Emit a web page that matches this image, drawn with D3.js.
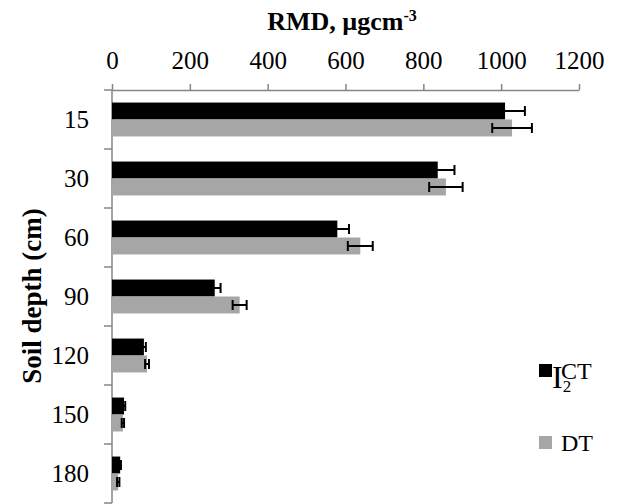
<!DOCTYPE html>
<html>
<head>
<meta charset="utf-8">
<script src="https://cdn.jsdelivr.net/npm/d3@7"></script>
<style>
  body { margin: 0; background: #fff; }
  text { font-family: "Liberation Serif", "Times New Roman", serif; fill: #000; }
</style>
</head>
<body>
<svg id="chart" width="630" height="504"></svg>
<script>
// soil depths (cm) and root mass density values
var depths = ["15", "30", "60", "90", "120", "150", "180"];
var ct_values = [1010, 837, 579, 264, 82, 31, 21];
var ct_errors = [51, 43, 30, 15, 5, 3, 2];
var dt_values = [1028, 858, 638, 328, 90, 28, 16];
var dt_errors = [51, 43, 32, 18, 5, 3, 3];
var x_ticks = [0, 200, 400, 600, 800, 1000, 1200];
var series = [
  {name: "CT", values: ct_values, errors: ct_errors, color: "#000000"},
  {name: "DT", values: dt_values, errors: dt_errors, color: "#a6a6a6"}
];

var svg = d3.select("#chart");

var x = d3.scaleLinear().domain([0, 1200]).range([112, 579]);
var y = d3.scaleBand().domain(depths).range([90, 503]).padding(0);
var inner = d3.scaleBand().domain(["CT", "DT"])
  .range([0, y.bandwidth()]).paddingOuter(0.74).paddingInner(0);

/* top axis */
var xAxis = svg.append("g")
  .attr("transform", "translate(0,90)")
  .call(d3.axisTop(x).tickValues(x_ticks).tickFormat(d3.format("d"))
    .tickSize(6).tickPadding(15).tickSizeOuter(0));
xAxis.select(".domain").attr("stroke", "#868686").attr("stroke-width", 1.5);
xAxis.selectAll(".tick line").attr("stroke", "#868686").attr("stroke-width", 1.5);
xAxis.selectAll(".tick text")
  .style("font-family", "Liberation Serif")
  .style("font-size", "25px")
  .attr("fill", "#000");

/* left axis: ticks at band edges */
var edges = depths.map(function(d) { return y(d); }).concat([y.range()[1]]);
var yAxis = svg.append("g");
yAxis.append("line")
  .attr("x1", x(0)).attr("x2", x(0))
  .attr("y1", 90).attr("y2", 503)
  .attr("stroke", "#868686").attr("stroke-width", 1.5);
yAxis.selectAll(".edge").data(edges).enter().append("line")
  .attr("x1", x(0) - 8).attr("x2", x(0))
  .attr("y1", function(d) { return d; }).attr("y2", function(d) { return d; })
  .attr("stroke", "#868686").attr("stroke-width", 1.5);
yAxis.selectAll(".lbl").data(depths).enter().append("text")
  .attr("x", 89)
  .attr("y", function(d) { return y(d) + y.bandwidth() / 2; })
  .attr("dy", "0.35em")
  .attr("text-anchor", "end")
  .style("font-size", "25px")
  .text(function(d) { return d; });

/* bars */
series.forEach(function(s) {
  var g = svg.append("g");
  g.selectAll("rect").data(s.values).enter().append("rect")
    .attr("x", x(0))
    .attr("y", function(d, i) { return y(depths[i]) + inner(s.name); })
    .attr("width", function(d) { return x(d) - x(0); })
    .attr("height", inner.bandwidth())
    .attr("fill", s.color);

  // error bars
  var eb = g.selectAll(".err").data(s.values).enter().append("g");
  function cy(i) { return y(depths[i]) + inner(s.name) + inner.bandwidth() / 2; }
  eb.append("line")
    .attr("x1", function(d, i) { return x(d - s.errors[i]); })
    .attr("x2", function(d, i) { return x(d + s.errors[i]); })
    .attr("y1", function(d, i) { return cy(i); })
    .attr("y2", function(d, i) { return cy(i); })
    .attr("stroke", "#000").attr("stroke-width", 2);
  [-1, 1].forEach(function(sign) {
    eb.append("line")
      .attr("x1", function(d, i) { return x(d + sign * s.errors[i]); })
      .attr("x2", function(d, i) { return x(d + sign * s.errors[i]); })
      .attr("y1", function(d, i) { return cy(i) - 5; })
      .attr("y2", function(d, i) { return cy(i) + 5; })
      .attr("stroke", "#000").attr("stroke-width", 2);
  });
});

/* titles */
svg.append("text")
  .attr("x", 342).attr("y", 30)
  .attr("text-anchor", "middle")
  .style("font-size", "26px").style("font-weight", "bold")
  .text("RMD, µgcm")
  .append("tspan")
  .attr("dy", "-9").style("font-size", "16px")
  .text("-3");

svg.append("text")
  .attr("transform", "translate(41,296) rotate(-90)")
  .attr("text-anchor", "middle")
  .style("font-size", "27px").style("font-weight", "bold")
  .text("Soil depth (cm)");

/* legend */
var legend = svg.append("g");
legend.selectAll("rect").data(series).enter().append("rect")
  .attr("x", 539)
  .attr("y", function(d, i) { return 364 + i * 72; })
  .attr("width", 13).attr("height", 13)
  .attr("fill", function(d) { return d.color; });
legend.selectAll(".name").data(series).enter().append("text")
  .attr("x", 561)
  .attr("y", function(d, i) { return 379 + i * 72; })
  .style("font-size", "24px")
  .text(function(d) { return d.name; });
// stray "I2" glyphs overlapping the CT entry
legend.append("text")
  .attr("x", 552).attr("y", 388)
  .style("font-size", "32px")
  .text("I")
  .append("tspan")
  .attr("dy", "4").style("font-size", "17px")
  .text("2");
</script>
</body>
</html>
